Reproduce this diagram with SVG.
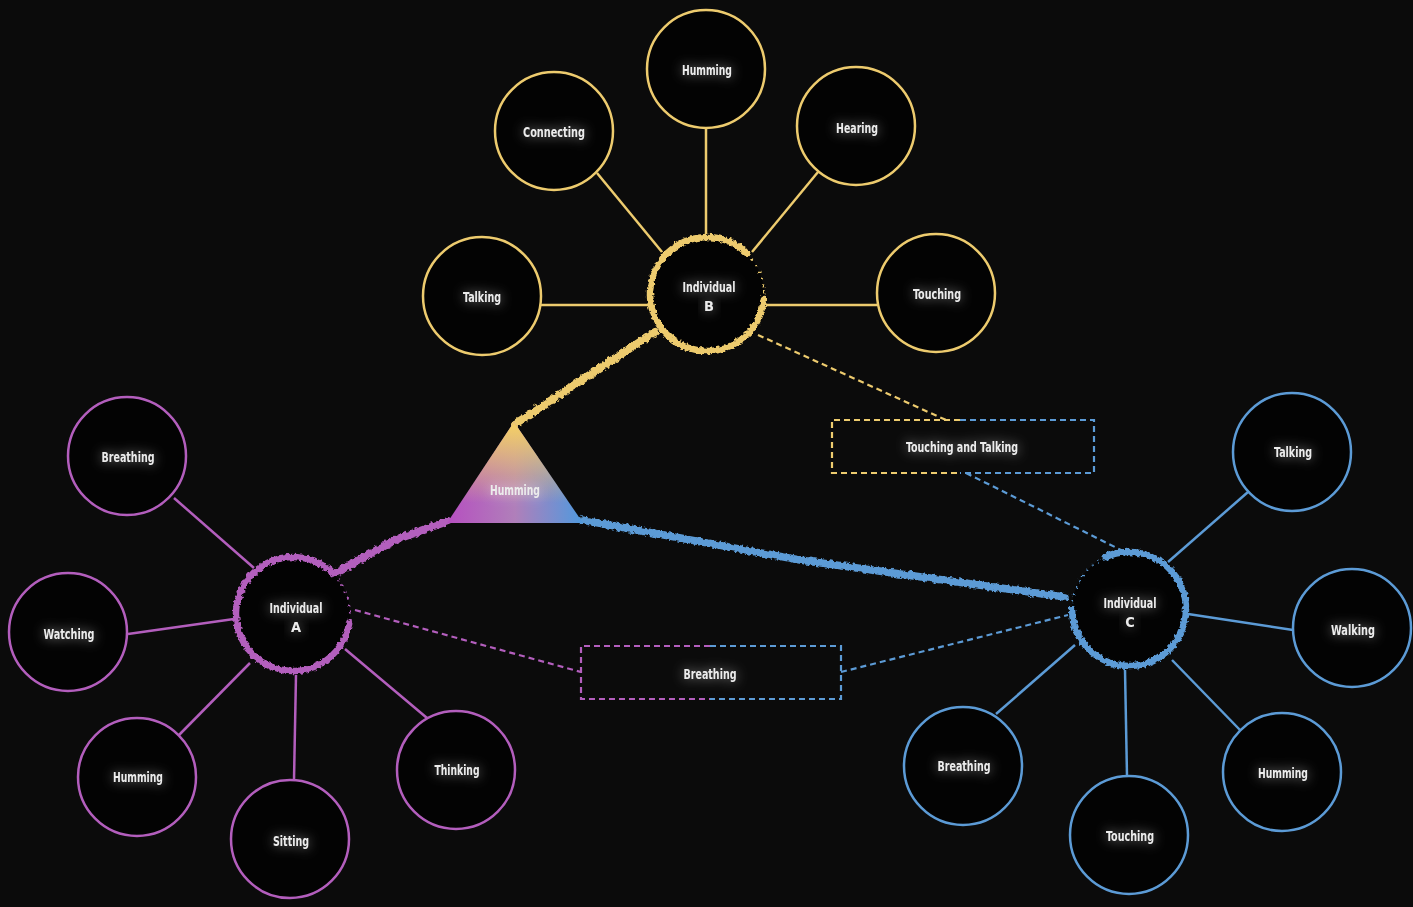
<svg xmlns="http://www.w3.org/2000/svg" width="1413" height="907" viewBox="0 0 1413 907">
<defs>
<style>
.node{fill:#030303;stroke-width:2.5}
.y{stroke:#edcb6e}.p{stroke:#b35ebd}.b{stroke:#5c9bd6}
.lnk{fill:none;stroke-width:2.5}
.dash{fill:none;stroke-width:2.2;stroke-dasharray:6 4}
.ind{fill:none;stroke-width:6.5;stroke-linecap:round}
.rough{fill:none;stroke-linecap:round}
text{font-family:"DejaVu Sans Condensed","DejaVu Sans",sans-serif;font-weight:bold;font-size:14.5px;fill:#ececec;text-anchor:middle}
</style>
<filter id="glow" x="-60%" y="-150%" width="220%" height="400%">
<feGaussianBlur in="SourceAlpha" stdDeviation="6" result="bl"/>
<feFlood flood-color="#ffffff" flood-opacity="0.5"/>
<feComposite in2="bl" operator="in" result="g"/>
<feMerge><feMergeNode in="g"/><feMergeNode in="SourceGraphic"/></feMerge>
</filter>
<filter id="rough" filterUnits="userSpaceOnUse" x="0" y="0" width="1413" height="907">
<feTurbulence type="fractalNoise" baseFrequency="0.3" numOctaves="2" seed="4" result="n"/>
<feDisplacementMap in="SourceGraphic" in2="n" scale="5" xChannelSelector="R" yChannelSelector="G"/>
</filter>
<linearGradient id="triH" x1="0" y1="0" x2="1" y2="0">
<stop offset="0" stop-color="#b64fc0"/>
<stop offset="0.5" stop-color="#b07fba"/>
<stop offset="1" stop-color="#4f9ade"/>
</linearGradient>
<linearGradient id="triV" x1="0" y1="0" x2="0" y2="1">
<stop offset="0.05" stop-color="#f2cd68" stop-opacity="1"/>
<stop offset="0.8" stop-color="#f2cd68" stop-opacity="0"/>
</linearGradient>
</defs>
<rect width="1413" height="907" fill="#0b0b0b"/>

<g id="connectors">
<line class="lnk y" x1="706" y1="128" x2="706" y2="234"/>
<line class="lnk y" x1="597" y1="173" x2="662" y2="252"/>
<line class="lnk y" x1="818" y1="172" x2="752" y2="252"/>
<line class="lnk y" x1="541" y1="305" x2="648" y2="305"/>
<line class="lnk y" x1="766" y1="305" x2="877" y2="305"/>
<line class="lnk p" x1="174" y1="498" x2="254" y2="568"/>
<line class="lnk p" x1="128" y1="634" x2="234" y2="619"/>
<line class="lnk p" x1="179" y1="735" x2="250" y2="663"/>
<line class="lnk p" x1="294" y1="780" x2="296" y2="675"/>
<line class="lnk p" x1="427" y1="718" x2="345" y2="649"/>
<line class="lnk b" x1="1248" y1="492" x2="1168" y2="562"/>
<line class="lnk b" x1="1293" y1="630" x2="1188" y2="614"/>
<line class="lnk b" x1="996" y1="714" x2="1075" y2="645"/>
<line class="lnk b" x1="1127" y1="776" x2="1125" y2="670"/>
<line class="lnk b" x1="1240" y1="730" x2="1172" y2="660"/>
<path class="dash y" d="M758 335 L946 420"/>
<path class="dash b" d="M966 473 L1125 552"/>
<path class="dash p" d="M355 610 L581 672"/>
<path class="dash b" d="M841 672 L1068 615"/>
<g filter="url(#rough)">
<path class="rough y" stroke-width="8" d="M515 424 L600 368 L655 332"/>
<path class="rough p" stroke-width="8" d="M448 521 L395 540 L338 572"/>
<path class="rough b" stroke-width="7.5" d="M582 520 L800 560 L1065 597"/>
</g>
</g>

<g id="box-touching-talking">
<path class="dash y" d="M960 420 H832 V473 H960"/>
<path class="dash b" d="M960 420 H1094 V473 H960"/>
<text x="962" y="452" textLength="112" lengthAdjust="spacingAndGlyphs" filter="url(#glow)">Touching and Talking</text>
</g>
<g id="box-breathing">
<path class="dash p" d="M710 646 H581 V699 H710"/>
<path class="dash b" d="M710 646 H841 V699 H710"/>
<text x="710" y="679" textLength="53" lengthAdjust="spacingAndGlyphs" filter="url(#glow)">Breathing</text>
</g>

<g id="triangle-humming">
<polygon points="514,422 447,523 583,523" fill="url(#triH)"/>
<polygon points="514,422 447,523 583,523" fill="url(#triV)"/>
<text x="515" y="495" textLength="50" lengthAdjust="spacingAndGlyphs" filter="url(#glow)">Humming</text>
</g>

<g id="individual-b">
<circle cx="707" cy="294" r="57" fill="#030303"/>
<g filter="url(#rough)">
<path class="ind y" d="M763.8 299 A57 57 0 1 1 747.3 253.7"/>
<path class="y" fill="none" stroke-width="2" stroke-dasharray="2 5" d="M747.3 253.7 A57 57 0 0 1 763.8 299"/>
</g>
<text x="709" y="292" textLength="53" lengthAdjust="spacingAndGlyphs" filter="url(#glow)">Individual</text>
<text x="709" y="311" filter="url(#glow)">B</text>
</g>
<g id="b-humming"><circle class="node y" cx="706" cy="69" r="59"/><text x="707" y="75" textLength="50" lengthAdjust="spacingAndGlyphs" filter="url(#glow)">Humming</text></g>
<g id="b-connecting"><circle class="node y" cx="554" cy="131" r="59"/><text x="554" y="137" textLength="62" lengthAdjust="spacingAndGlyphs" filter="url(#glow)">Connecting</text></g>
<g id="b-hearing"><circle class="node y" cx="856" cy="126" r="59"/><text x="857" y="133" textLength="42" lengthAdjust="spacingAndGlyphs" filter="url(#glow)">Hearing</text></g>
<g id="b-talking"><circle class="node y" cx="482" cy="296" r="59"/><text x="482" y="302" textLength="38" lengthAdjust="spacingAndGlyphs" filter="url(#glow)">Talking</text></g>
<g id="b-touching"><circle class="node y" cx="936" cy="293" r="59"/><text x="937" y="299" textLength="48" lengthAdjust="spacingAndGlyphs" filter="url(#glow)">Touching</text></g>

<g id="individual-a">
<circle cx="293" cy="614" r="57" fill="#030303"/>
<g filter="url(#rough)">
<path class="ind p" d="M349.1 623.9 A57 57 0 1 1 333.3 573.7"/>
<path class="p" fill="none" stroke-width="2" stroke-dasharray="2 5" d="M333.3 573.7 A57 57 0 0 1 349.1 623.9"/>
</g>
<text x="296" y="613" textLength="53" lengthAdjust="spacingAndGlyphs" filter="url(#glow)">Individual</text>
<text x="296" y="632" filter="url(#glow)">A</text>
</g>
<g id="a-breathing"><circle class="node p" cx="127" cy="456" r="59"/><text x="128" y="462" textLength="53" lengthAdjust="spacingAndGlyphs" filter="url(#glow)">Breathing</text></g>
<g id="a-watching"><circle class="node p" cx="68" cy="632" r="59"/><text x="69" y="639" textLength="51" lengthAdjust="spacingAndGlyphs" filter="url(#glow)">Watching</text></g>
<g id="a-humming"><circle class="node p" cx="137" cy="777" r="59"/><text x="138" y="782" textLength="50" lengthAdjust="spacingAndGlyphs" filter="url(#glow)">Humming</text></g>
<g id="a-sitting"><circle class="node p" cx="290" cy="839" r="59"/><text x="291" y="846" textLength="36" lengthAdjust="spacingAndGlyphs" filter="url(#glow)">Sitting</text></g>
<g id="a-thinking"><circle class="node p" cx="456" cy="770" r="59"/><text x="457" y="775" textLength="45" lengthAdjust="spacingAndGlyphs" filter="url(#glow)">Thinking</text></g>

<g id="individual-c">
<circle cx="1129" cy="609" r="57" fill="#030303"/>
<g filter="url(#rough)">
<path class="ind b" d="M1104.9 557.3 A57 57 0 1 1 1072 609"/>
<path class="b" fill="none" stroke-width="2" stroke-dasharray="2 5" d="M1072 609 A57 57 0 0 1 1104.9 557.3"/>
</g>
<text x="1130" y="608" textLength="53" lengthAdjust="spacingAndGlyphs" filter="url(#glow)">Individual</text>
<text x="1130" y="627" filter="url(#glow)">C</text>
</g>
<g id="c-talking"><circle class="node b" cx="1292" cy="452" r="59"/><text x="1293" y="457" textLength="38" lengthAdjust="spacingAndGlyphs" filter="url(#glow)">Talking</text></g>
<g id="c-walking"><circle class="node b" cx="1352" cy="628" r="59"/><text x="1353" y="635" textLength="44" lengthAdjust="spacingAndGlyphs" filter="url(#glow)">Walking</text></g>
<g id="c-breathing"><circle class="node b" cx="963" cy="766" r="59"/><text x="964" y="771" textLength="53" lengthAdjust="spacingAndGlyphs" filter="url(#glow)">Breathing</text></g>
<g id="c-touching"><circle class="node b" cx="1129" cy="835" r="59"/><text x="1130" y="841" textLength="48" lengthAdjust="spacingAndGlyphs" filter="url(#glow)">Touching</text></g>
<g id="c-humming"><circle class="node b" cx="1282" cy="772" r="59"/><text x="1283" y="778" textLength="50" lengthAdjust="spacingAndGlyphs" filter="url(#glow)">Humming</text></g>
</svg>
